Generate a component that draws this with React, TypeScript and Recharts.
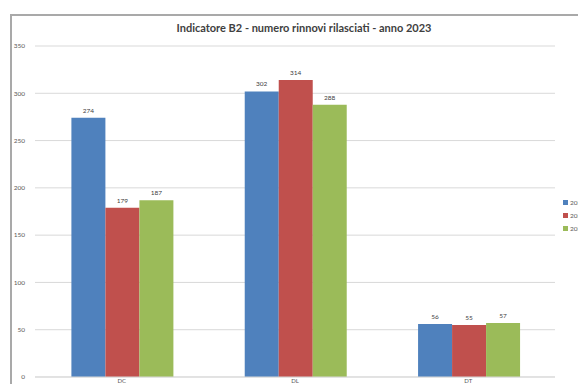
import React from "react";
import { BarChart, Bar, XAxis, YAxis, CartesianGrid, LabelList } from "recharts";

const categories = ["DC", "DL", "DT"];
const values2023 = [274, 302, 56];
const values2022 = [179, 314, 55];
const values2021 = [187, 288, 57];
const yTicks = [0, 50, 100, 150, 200, 250, 300, 350];

const seriesInfo = [
  { key: "y2023", name: "2023", color: "#4f81bd" },
  { key: "y2022", name: "2022", color: "#c0504d" },
  { key: "y2021", name: "2021", color: "#9bbb59" },
];

const data = categories.map((c, i) => ({
  cat: c,
  y2023: values2023[i],
  y2022: values2022[i],
  y2021: values2021[i],
}));

const FONT = "Lato, 'Liberation Sans', sans-serif";

const LegendBox = () => (
  <div
    style={{
      position: "absolute",
      left: 563,
      top: 196,
      width: 40,
      fontFamily: FONT,
      fontSize: 6.5,
      color: "#595959",
      whiteSpace: "nowrap",
    }}
  >
    {seriesInfo.map((s) => (
      <div key={s.key} style={{ display: "flex", alignItems: "center", height: 13 }}>
        <span
          style={{ display: "inline-block", flexShrink: 0, width: 5, height: 5, background: s.color, marginRight: 2 }}
        />
        <span style={{ flexShrink: 0 }}>{s.name}</span>
      </div>
    ))}
  </div>
);

export default function App() {
  return (
    <div style={{ position: "relative", width: 586, height: 392, margin: -8, overflow: "hidden", background: "#fff" }}>
      <div
        style={{
          position: "absolute",
          left: 10,
          top: 14,
          width: 620,
          height: 420,
          border: "2px solid #a9a9a9",
          boxSizing: "border-box",
        }}
      />
      <div
        style={{
          position: "absolute",
          left: 0,
          width: 608,
          top: 21,
          textAlign: "center",
          fontFamily: FONT,
          fontWeight: 700,
          fontSize: 11,
          color: "#404040",
        }}
      >
        Indicatore B2 - numero rinnovi rilasciati - anno 2023
      </div>
      <div style={{ position: "absolute", left: 0, top: 0 }}>
        <BarChart
          width={586}
          height={392}
          data={data}
          margin={{ top: 46, right: 31, bottom: 0, left: 0 }}
          barCategoryGap="21%"
          barGap={0}
        >
          <CartesianGrid vertical={false} stroke="#d9d9d9" />
          <XAxis
            dataKey="cat"
            axisLine={{ stroke: "#d9d9d9" }}
            tickLine={false}
            tickSize={0}
            tickMargin={2}
            tick={{ fontSize: 6, fill: "#595959", fontFamily: FONT }}
            height={15}
          />
          <YAxis
            domain={[0, 350]}
            ticks={yTicks}
            axisLine={false}
            tickLine={false}
            width={35}
            tickMargin={4}
            tick={{ fontSize: 6.5, fill: "#595959", fontFamily: FONT }}
          />
          {seriesInfo.map((s) => (
            <Bar key={s.key} dataKey={s.key} name={s.name} fill={s.color} isAnimationActive={false}>
              <LabelList
                dataKey={s.key}
                position="top"
                offset={5}
                style={{ fontSize: 6.5, fill: "#404040", fontFamily: FONT }}
              />
            </Bar>
          ))}
        </BarChart>
      </div>
      <LegendBox />
    </div>
  );
}
